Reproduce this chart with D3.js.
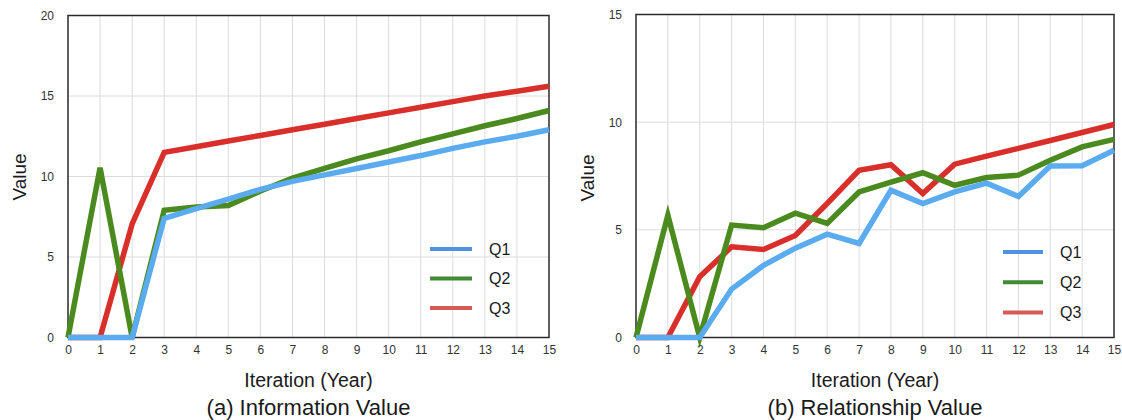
<!DOCTYPE html>
<html>
<head>
<meta charset="utf-8">
<script src="https://cdn.jsdelivr.net/npm/d3@7"></script>
<style>
  html, body { margin: 0; padding: 0; background: #fff; }
  svg { display: block; font-family: "Liberation Sans", Arial, Helvetica, sans-serif; }
</style>
</head>
<body>
<svg id="chart" width="1122" height="420"></svg>
<script>
// ---- data ----
const years = [0,1,2,3,4,5,6,7,8,9,10,11,12,13,14,15];
const seriesNames = ["Q1","Q2","Q3"];

// (a) Information Value
const infoQ1 = [0, 0, 0, 7.4, 8.0, 8.6, 9.2, 9.7, 10.1, 10.5, 10.9, 11.3, 11.75, 12.15, 12.5, 12.9];
const infoQ2 = [0, 10.55, 0, 7.9, 8.1, 8.2, 9.1, 9.9, 10.5, 11.1, 11.6, 12.15, 12.65, 13.15, 13.6, 14.1];
const infoQ3 = [0, 0, 7.05, 11.5, 11.85, 12.2, 12.55, 12.9, 13.25, 13.6, 13.95, 14.3, 14.65, 15.0, 15.3, 15.6];

// (b) Relationship Value
const relQ1 = [0, 0, 0, 2.25, 3.35, 4.15, 4.8, 4.37, 6.84, 6.22, 6.76, 7.17, 6.55, 7.96, 7.98, 8.7];
const relQ2 = [0, 5.68, 0, 5.22, 5.1, 5.77, 5.3, 6.76, 7.22, 7.65, 7.07, 7.43, 7.54, 8.23, 8.85, 9.2];
const relQ3 = [0, 0, 2.82, 4.21, 4.09, 4.74, 6.22, 7.76, 8.02, 6.69, 8.05, 8.42, 8.78, 9.15, 9.52, 9.89];

const yTicksA = [0, 5, 10, 15, 20];
const yTicksB = [0, 5, 10, 15];
const titleA = "(a) Information Value";
const titleB = "(b) Relationship Value";
const xLabel = "Iteration (Year)";
const yLabel = "Value";

const lineColors = ["#5aabf0", "#4a8a1e", "#d92f2a"];
const legendColors = ["#4f93e0", "#3f8a33", "#d55a58"];

const svg = d3.select("#chart");

function panel(cfg) {
  const x = d3.scaleLinear().domain([0, 15]).range([cfg.x0, cfg.x1]);
  const y = d3.scaleLinear().domain([0, cfg.yMax]).range([cfg.y1, cfg.y0]);
  const g = svg.append("g");

  // grid
  g.append("g").selectAll("line").data(years.slice(1, -1)).join("line")
    .attr("x1", d => x(d)).attr("x2", d => x(d))
    .attr("y1", cfg.y0).attr("y2", cfg.y1)
    .attr("stroke", "#dcdcdc").attr("stroke-width", 1);
  g.append("g").selectAll("line").data(cfg.yTicks.slice(1, -1)).join("line")
    .attr("x1", cfg.x0).attr("x2", cfg.x1)
    .attr("y1", d => y(d)).attr("y2", d => y(d))
    .attr("stroke", "#dcdcdc").attr("stroke-width", 1);

  // frame
  g.append("rect")
    .attr("x", cfg.x0).attr("y", cfg.y0)
    .attr("width", cfg.x1 - cfg.x0).attr("height", cfg.y1 - cfg.y0)
    .attr("fill", "none").attr("stroke", "#2a2a2a").attr("stroke-width", 1.5);

  // lines (Q3 drawn first, Q1 on top)
  const line = d3.line().x((d, i) => x(years[i])).y(d => y(d));
  [2, 1, 0].forEach(i => {
    g.append("path").datum(cfg.series[i])
      .attr("d", line)
      .attr("fill", "none")
      .attr("stroke", lineColors[i])
      .attr("stroke-width", 5.5)
      .attr("stroke-linejoin", "miter")
      .attr("stroke-linecap", "butt");
  });

  // axes (labels only)
  const xAxis = d3.axisBottom(x).tickValues(years).tickSize(0).tickPadding(8);
  const xa = g.append("g").attr("transform", `translate(0,${cfg.y1})`).call(xAxis);
  xa.select(".domain").remove();
  xa.selectAll("text").attr("font-size", 12).attr("fill", "#333")
    .attr("font-family", "Liberation Sans, Arial, sans-serif");

  const yAxis = d3.axisLeft(y).tickValues(cfg.yTicks).tickSize(0).tickPadding(14);
  const ya = g.append("g").attr("transform", `translate(${cfg.x0},0)`).call(yAxis);
  ya.select(".domain").remove();
  ya.selectAll("text").attr("font-size", 12).attr("fill", "#333")
    .attr("font-family", "Liberation Sans, Arial, sans-serif");

  // axis titles
  g.append("text")
    .attr("x", (cfg.x0 + cfg.x1) / 2).attr("y", 387)
    .attr("text-anchor", "middle").attr("font-size", 19.5).attr("fill", "#1a1a1a")
    .text(xLabel);
  g.append("text")
    .attr("transform", `translate(${cfg.yLabelX},${cfg.yLabelY}) rotate(-90)`)
    .attr("text-anchor", "middle").attr("font-size", 19).attr("fill", "#1a1a1a")
    .text(yLabel);
  g.append("text")
    .attr("x", (cfg.x0 + cfg.x1) / 2).attr("y", 415)
    .attr("text-anchor", "middle").attr("font-size", 22).attr("fill", "#1a1a1a")
    .text(cfg.title);

  // legend
  seriesNames.forEach((n, i) => {
    const ly = cfg.legY + i * cfg.legStep;
    g.append("line")
      .attr("x1", cfg.legX).attr("x2", cfg.legX + cfg.legW)
      .attr("y1", ly).attr("y2", ly)
      .attr("stroke", legendColors[i]).attr("stroke-width", 4);
    g.append("text")
      .attr("x", cfg.legX + cfg.legW + 17).attr("y", ly)
      .attr("dy", "0.35em").attr("font-size", 16).attr("fill", "#1a1a1a")
      .text(n);
  });
}

panel({
  x0: 68, x1: 549, y0: 15.5, y1: 337.5, yMax: 20, yTicks: yTicksA,
  series: [infoQ1, infoQ2, infoQ3], title: titleA,
  yLabelX: 26, yLabelY: 177,
  legX: 430, legW: 42, legY: 249, legStep: 29.5
});
panel({
  x0: 636, x1: 1114, y0: 14.5, y1: 337.5, yMax: 15, yTicks: yTicksB,
  series: [relQ1, relQ2, relQ3], title: titleB,
  yLabelX: 594, yLabelY: 178,
  legX: 1003, legW: 40, legY: 252, legStep: 30.3
});
</script>
</body>
</html>
